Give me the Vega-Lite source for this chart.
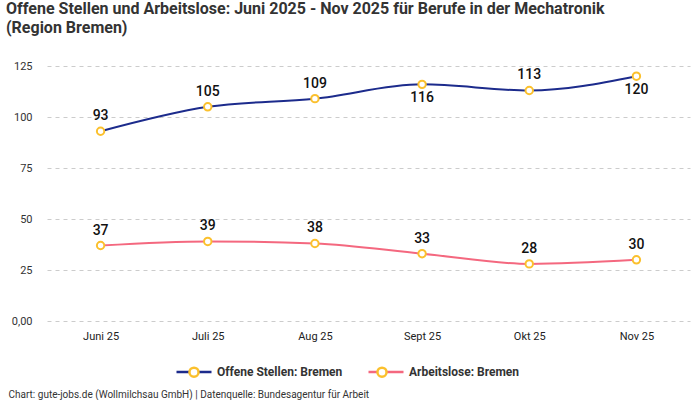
{
  "$schema": "https://vega.github.io/schema/vega-lite/v6.json",
  "autosize": "none",
  "width": 643,
  "height": 255,
  "padding": {"left": 47, "top": 66, "right": 10, "bottom": 79},
  "title": {
    "text": ["Offene Stellen und Arbeitslose: Juni 2025 - Nov 2025 für Berufe in der Mechatronik", "(Region Bremen)"],
    "anchor": "start",
    "dx": -2,
    "offset": 24,
    "fontSize": 16,
    "lineHeight": 19,
    "fontWeight": "bold",
    "color": "#333333"
  },
  "data": {
    "values": [
      {"month": "Juni 25", "series": "Offene Stellen: Bremen", "value": 93},
      {"month": "Juli 25", "series": "Offene Stellen: Bremen", "value": 105},
      {"month": "Aug 25", "series": "Offene Stellen: Bremen", "value": 109},
      {"month": "Sept 25", "series": "Offene Stellen: Bremen", "value": 116},
      {"month": "Okt 25", "series": "Offene Stellen: Bremen", "value": 113},
      {"month": "Nov 25", "series": "Offene Stellen: Bremen", "value": 120},
      {"month": "Juni 25", "series": "Arbeitslose: Bremen", "value": 37},
      {"month": "Juli 25", "series": "Arbeitslose: Bremen", "value": 39},
      {"month": "Aug 25", "series": "Arbeitslose: Bremen", "value": 38},
      {"month": "Sept 25", "series": "Arbeitslose: Bremen", "value": 33},
      {"month": "Okt 25", "series": "Arbeitslose: Bremen", "value": 28},
      {"month": "Nov 25", "series": "Arbeitslose: Bremen", "value": 30}
    ]
  },
  "encoding": {
    "x": {
      "field": "month",
      "type": "ordinal",
      "sort": null,
      "scale": {"type": "point", "padding": 0.5},
      "axis": {
        "labelAngle": 0,
        "labelPadding": 9,
        "labelFontSize": 11,
        "labelColor": "#222222",
        "domain": false,
        "ticks": false,
        "grid": false,
        "title": "Chart: gute-jobs.de (Wollmilchsau GmbH) | Datenquelle: Bundesagentur für Arbeit",
        "titleAnchor": "start",
        "titleX": -39,
        "titleY": 76,
        "titleBaseline": "alphabetic",
        "titleFontSize": 10,
        "titleFontWeight": "normal",
        "titleColor": "#333333"
      }
    },
    "y": {
      "field": "value",
      "type": "quantitative",
      "scale": {"domain": [0, 125], "nice": false},
      "axis": {
        "values": [0, 25, 50, 75, 100, 125],
        "labelExpr": "datum.value == 0 ? '0,00' : datum.label",
        "title": null,
        "domain": false,
        "ticks": false,
        "labelPadding": 15,
        "labelFontSize": 11,
        "labelColor": "#333333",
        "gridDash": [4, 4],
        "gridColor": "#cccccc"
      }
    }
  },
  "layer": [
    {
      "mark": {"type": "line", "interpolate": "monotone", "strokeWidth": 2},
      "encoding": {
        "color": {
          "field": "series",
          "type": "nominal",
          "scale": {
            "domain": ["Offene Stellen: Bremen", "Arbeitslose: Bremen"],
            "range": ["#1c2b8c", "#f4687f"]
          },
          "legend": {
            "title": null,
            "orient": "none",
            "legendX": 128,
            "legendY": 287,
            "direction": "horizontal",
            "symbolType": "M-1,0L1,0",
            "symbolSize": 1225,
            "symbolStrokeWidth": 2.5,
            "labelFontSize": 12,
            "labelFontWeight": "bold",
            "labelColor": "#333333",
            "columnPadding": 20
          }
        }
      }
    },
    {
      "mark": {"type": "point", "filled": true, "fill": "white", "stroke": "#fbc02d", "strokeWidth": 2, "size": 812, "opacity": 1},
      "encoding": {
        "shape": {
          "field": "series",
          "type": "nominal",
          "sort": ["Offene Stellen: Bremen", "Arbeitslose: Bremen"],
          "scale": {"range": ["M-0.26,0A0.26,0.26,0,1,1,0.26,0A0.26,0.26,0,1,1,-0.26,0Z"]},
          "legend": {
            "title": null,
            "orient": "none",
            "legendX": 128,
            "legendY": 287,
            "direction": "horizontal",
            "symbolSize": 1225,
            "symbolStrokeWidth": 2.5,
            "labelFontSize": 12,
            "labelFontWeight": "bold",
            "labelOpacity": 0,
            "columnPadding": 20,
            "encode": {
              "symbols": {
                "update": {
                  "stroke": {"value": "#fbc02d"},
                  "strokeWidth": {"value": 2},
                  "fill": {"value": "white"},
                  "opacity": {"value": 1}
                }
              }
            }
          }
        }
      }
    },
    {
      "transform": [{"filter": "!(datum.series == 'Offene Stellen: Bremen' && (datum.month == 'Sept 25' || datum.month == 'Nov 25'))"}],
      "mark": {"type": "text", "dy": -15, "fontSize": 14, "fontWeight": 500, "color": "#111111"},
      "encoding": {"text": {"field": "value", "type": "quantitative"}}
    },
    {
      "transform": [{"filter": "datum.series == 'Offene Stellen: Bremen' && (datum.month == 'Sept 25' || datum.month == 'Nov 25')"}],
      "mark": {"type": "text", "dy": 14, "fontSize": 14, "fontWeight": 500, "color": "#111111"},
      "encoding": {"text": {"field": "value", "type": "quantitative"}}
    }
  ],
  "config": {
    "font": "Roboto, sans-serif",
    "view": {"stroke": null}
  }
}
